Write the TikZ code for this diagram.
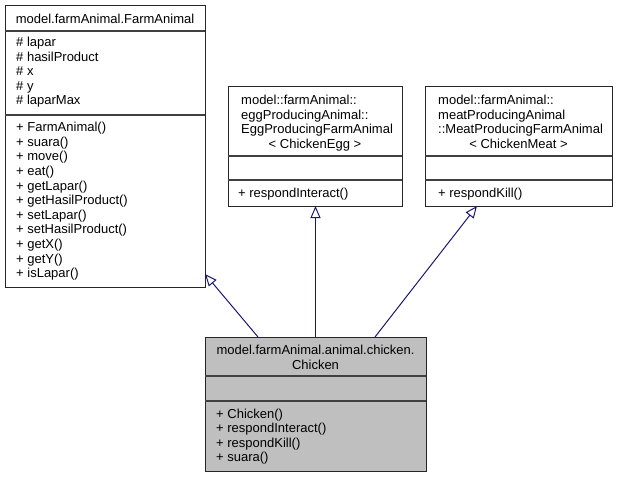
\documentclass[tikz,border=0pt]{standalone}
\usepackage{fontspec}
\setmainfont{Liberation Sans}
\usepackage{tikz}
\usetikzlibrary{arrows.meta}
\usetikzlibrary{calc}
\definecolor{edgeblue}{RGB}{25,25,112}
\definecolor{boxgray}{RGB}{191,191,191}
\newcommand{\umlfont}{\fontsize{13}{15}\selectfont}

\begin{document}
\begin{tikzpicture}[
    x=1pt, y=-1pt,
    classbox/.style={draw=black!85, line width=1pt, anchor=north west, inner sep=0pt, outer sep=0pt},
    divider/.style={draw=black!75, line width=1.2pt},
    member/.style={anchor=base west, inner sep=0pt, font=\umlfont},
    title/.style={anchor=base, inner sep=0pt, font=\umlfont},
    inherit/.style={draw=edgeblue, line width=1pt, -{Triangle[open, length=12pt, width=10pt]}}
    ]
   \useasboundingbox (0,0) rectangle (619,477);
   % class boxes
   \node[classbox, minimum width=200, minimum height=282] (farmanimal) at (5,5) {};
   \node[classbox, minimum width=174, minimum height=120] (eggfarm) at (228,86) {};
   \node[classbox, minimum width=187, minimum height=120] (meatfarm) at (425,86) {};
   \node[classbox, fill=boxgray, minimum width=221, minimum height=134] (chicken) at (205,337) {};
   % dividers
   \draw[divider] (5,31) -- (205,31);
   \draw[divider] (5,115) -- (205,115);
   \draw[divider] (228,156) -- (402,156);
   \draw[divider] (228,180) -- (402,180);
   \draw[divider] (425,156) -- (612,156);
   \draw[divider] (425,180) -- (612,180);
   \draw[divider] (205,376) -- (426,376);
   \draw[divider] (205,401) -- (426,401);
   % FarmAnimal
   \node[title] (fa-t) at (105,23) {model.farmAnimal.FarmAnimal};
   \foreach \m [count=\i] in {lapar, hasilProduct, x, y, laparMax}
      \node[member] (fa-a\i) at (16,{32+14.5*\i}) {\# \m};
   \foreach \m [count=\i] in {FarmAnimal(), suara(), move(), eat(), getLapar(),
      getHasilProduct(), setLapar(), setHasilProduct(), getX(), getY(), isLapar()}
      \node[member] (fa-m\i) at (16,{117+14.6*\i}) {+ \m};
   % EggProducingFarmAnimal
   \node[member] (egg-t1) at (241,104.5) {model::farmAnimal::};
   \node[member] (egg-t2) at (241,119) {eggProducingAnimal::};
   \node[member] (egg-t3) at (241,133.5) {EggProducingFarmAnimal};
   \node[title] (egg-t4) at (315,148) {< ChickenEgg >};
   \node[member] (egg-m1) at (238,197.5) {+ respondInteract()};
   % MeatProducingFarmAnimal
   \node[member] (meat-t1) at (438,104.5) {model::farmAnimal::};
   \node[member] (meat-t2) at (438,119) {meatProducingAnimal};
   \node[member] (meat-t3) at (438,133.5) {::MeatProducingFarmAnimal};
   \node[title] (meat-t4) at (518.5,148) {< ChickenMeat >};
   \node[member] (meat-m1) at (438,197.5) {+ respondKill()};
   % Chicken
   \node[title] (ch-t1) at (315.5,354.5) {model.farmAnimal.animal.chicken.};
   \node[title] (ch-t2) at (315.5,369) {Chicken};
   \foreach \m [count=\i] in {Chicken(), respondInteract(), respondKill(), suara()}
      \node[member] (ch-m\i) at (216,{403.5+14.5*\i}) {+ \m};
   % inheritance
   \draw[inherit] ([xshift=53pt]chicken.north west) -- ([yshift=13pt]farmanimal.south east);
   \draw[inherit] (chicken.north) -- (chicken.north |- eggfarm.south);
   \draw[inherit] ([xshift=-51pt]chicken.north east) -- ([xshift=-41.5pt]meatfarm.south);
\end{tikzpicture}
\end{document}
